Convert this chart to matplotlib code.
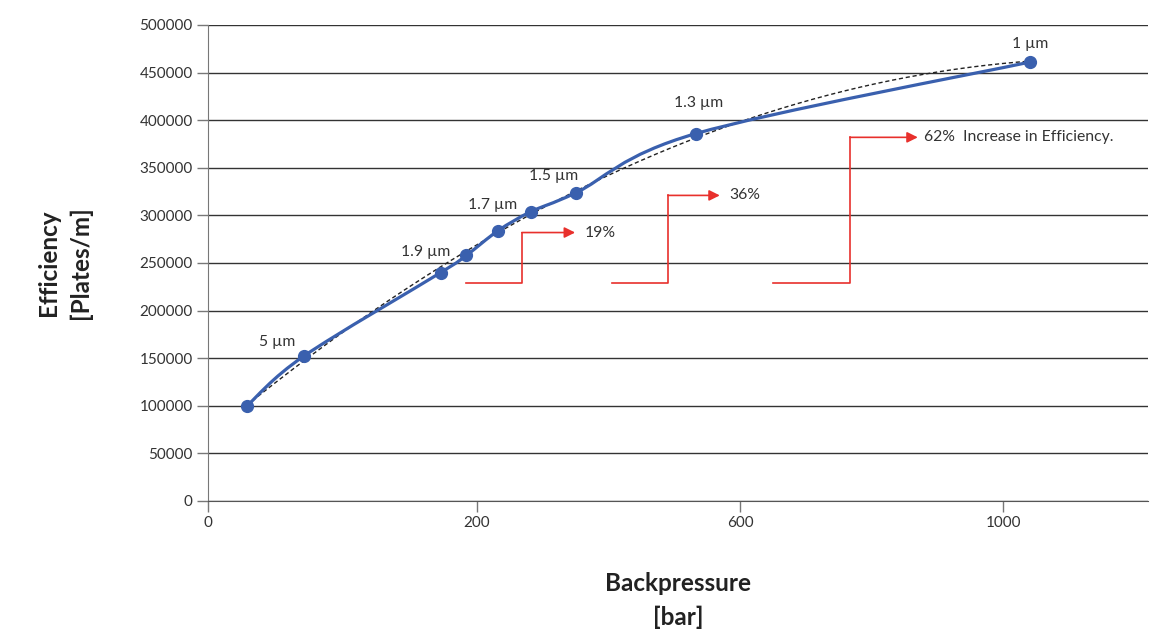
import numpy as np
import matplotlib
matplotlib.use("Agg")
import matplotlib.pyplot as plt
from matplotlib.path import Path
from matplotlib.patches import PathPatch

plt.rcParams["font.family"] = ["Lato", "DejaVu Sans"]

# data
backpressure = [29, 71, 173, 192, 232, 282, 351, 533, 1040]
efficiency   = [100000, 152000, 240000, 258000, 284000, 304000, 324000, 386000, 461000]
point_labels = ["", "5 µm", "", "1.9 µm", "", "1.7 µm", "1.5 µm", "1.3 µm", "1 µm"]
label_offset = [(0, 0), (-26, 14), (0, 0), (-41, 3), (0, 0), (-38, 7), (-23, 17), (2, 31), (1, 18)]

y_ticks = list(range(0, 500001, 50000))
x_ticks = [0, 200, 600, 1000]

# uneven x axis (ticks are equally spaced on the page)
BX = np.array([0, 200, 600, 1000], float)
BU = np.array([0, 269, 532, 795], float)
SLOPE_HI = 263 / 400
SLOPE_LO = 269 / 200

def fwd(x):
    x = np.asarray(x, float)
    return np.where(x > BX[-1], BU[-1] + (x - BX[-1]) * SLOPE_HI,
                    np.where(x < 0, x * SLOPE_LO, np.interp(x, BX, BU)))

def inv(u):
    u = np.asarray(u, float)
    return np.where(u > BU[-1], BX[-1] + (u - BU[-1]) / SLOPE_HI,
                    np.where(u < 0, u / SLOPE_LO, np.interp(u, BU, BX)))

BLUE = "#3A60AE"
RED = "#E8302C"

fig = plt.figure(figsize=(11.5, 6.32), dpi=100)
ax = fig.add_axes([208 / 1150, 1 - 501 / 632, 940 / 1150, 476 / 632])
ax.set_xscale("function", functions=(fwd, inv))
ax.set_xlim(0, 1220)
ax.set_ylim(0, 500000)

for v in y_ticks:
    ax.axhline(v, color="#333333", lw=1.0, zorder=1)

# dashed trendline (quadratic fit in page space)
u = fwd(backpressure)
coef = np.polyfit(u, efficiency, 2)
uu = np.linspace(u[0], u[-1], 200)
ax.plot(inv(uu), np.polyval(coef, uu), ls=(0, (3, 2)), color="#222222", lw=1.0, zorder=3)

# smoothed blue line (Catmull-Rom -> Bezier, in page space)
pts = np.column_stack([u, np.array(efficiency, float) / 1000.0])
verts = [pts[0]]
codes = [Path.MOVETO]
n = len(pts)
for i in range(n - 1):
    p0 = pts[i - 1] if i > 0 else pts[i]
    p1, p2 = pts[i], pts[i + 1]
    p3 = pts[i + 2] if i + 2 < n else pts[i + 1]
    c1 = p1 + (p2 - p0) / 6
    c2 = p2 - (p3 - p1) / 6
    verts += [c1, c2, p2]
    codes += [Path.CURVE4] * 3
verts = np.array(verts)
verts = np.column_stack([inv(verts[:, 0]), verts[:, 1] * 1000.0])
ax.add_patch(PathPatch(Path(verts, codes), fill=False, edgecolor=BLUE, lw=2.3, zorder=4))
ax.plot(backpressure, efficiency, "o", color=BLUE, ms=8.5, zorder=5)

for x, y, lab, off in zip(backpressure, efficiency, point_labels, label_offset):
    if lab:
        ax.annotate(lab, (x, y), xytext=off, textcoords="offset pixels",
                    ha="center", va="center", fontsize=11.3, color="#333333")

# red step arrows
steps = [
    (192, 268, 349, 229000, 282000, "19%", 363),
    (405, 490, 569, 229000, 321000, "36%", 583),
    (650, 767, 870, 229000, 382000, "62%  Increase in Efficiency.", 880),
]
for x0, xc, x1, ylo, yhi, txt, xt in steps:
    ax.plot([x0, xc, xc], [ylo, ylo, yhi], color=RED, lw=1.2, zorder=3)
    ax.annotate("", xy=(x1, yhi), xytext=(xc, yhi),
                arrowprops=dict(arrowstyle="-|>", color=RED, lw=1.2,
                                mutation_scale=16, shrinkA=0, shrinkB=0), zorder=3)
    ax.text(xt, yhi, txt, ha="left", va="center", fontsize=11.3, color="#333333")

ax.set_xticks(x_ticks)
ax.set_xticklabels([str(t) for t in x_ticks])
ax.set_yticks(y_ticks)
ax.set_yticklabels([str(t) for t in y_ticks])
ax.tick_params(axis="both", direction="out", length=8, width=1, color="#777777",
               labelsize=11, labelcolor="#333333", pad=3)

for s in ["top", "right"]:
    ax.spines[s].set_visible(False)
ax.spines["left"].set_color("#777777")
ax.spines["bottom"].set_color("#555555")

ax.set_xlabel("Backpressure\n[bar]", fontsize=17.5, fontweight="bold", color="#222222",
              labelpad=30, linespacing=1.55)
ax.set_ylabel("Efficiency\n[Plates/m]", fontsize=17.5, fontweight="bold", color="#222222",
              labelpad=34, linespacing=1.45)

fig.savefig("out.png", dpi=100)
